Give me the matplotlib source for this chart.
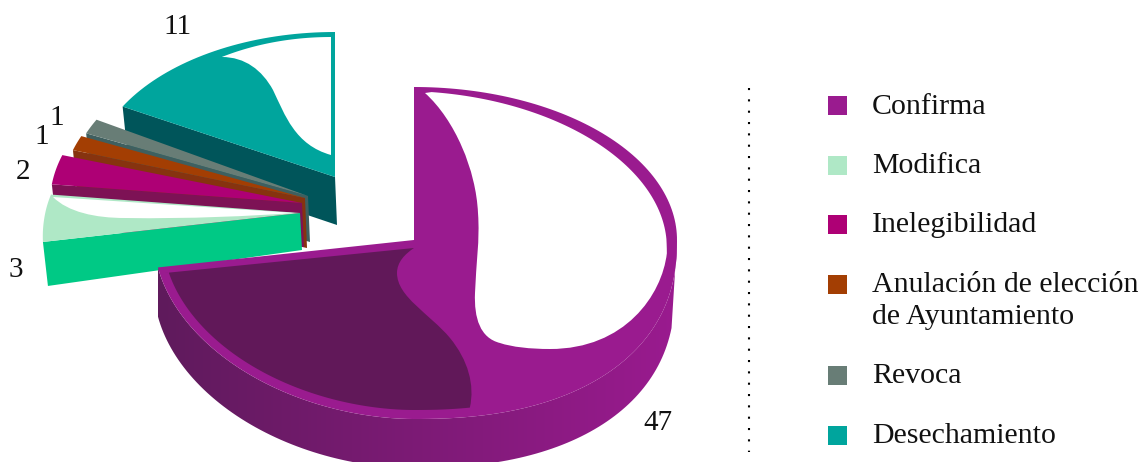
import numpy as np
import matplotlib
matplotlib.use('Agg')
import matplotlib.pyplot as plt
from matplotlib.path import Path
from matplotlib.patches import PathPatch, Polygon, Rectangle
from matplotlib.colors import LinearSegmentedColormap

# datos
categorias = ['Confirma', 'Modifica', 'Inelegibilidad',
              'Anulación de elección\nde Ayuntamiento', 'Revoca', 'Desechamiento']
valores = [47, 3, 2, 1, 1, 11]
colores = ['#9a1b8f', '#afe8c6', '#ae0075', '#a33e03', '#687d76', '#00a59d']
paredes = ['#9a1b8f', '#00c985', '#7d1255', '#86330f', '#3f5f5f', '#00555a']

plt.rcParams['font.family'] = ['Liberation Serif', 'DejaVu Serif']

fig = plt.figure(figsize=(11.43, 4.62), dpi=100)
ax = fig.add_axes([0, 0, 1, 1])
ax.set_xlim(0, 1143)
ax.set_ylim(462, 0)
ax.axis('off')

# angulos de cada rebanada (horario desde arriba)
cortes = np.concatenate([[0], np.cumsum(valores)]) / sum(valores) * 360


def borde(t, x0, y0, rx, ry, ry_abajo=None):
    t = np.radians(t)
    c = np.cos(t)
    r = np.where(c > 0, ry, ry if ry_abajo is None else ry_abajo)
    return np.column_stack([x0 + rx * np.sin(t), y0 - r * c])


def borde_main(t, d=0.0):
    # la rebanada grande tiene perspectiva: cada cuadrante es distinto
    t = np.radians(t)
    s, c = np.sin(t), np.cos(t)
    rx = np.where(s > 0, 263 - 1.5 * d, 260 - d)
    ry = np.where(c > 0, 153 - 0.6 * d, 179 - d)
    n = np.where((s > 0) & (c < 0), 2.3, np.where((s < 0) & (c < 0), 1.9, 2.0))
    x = 414 + rx * np.sign(s) * np.abs(s) ** (2 / n)
    y = 240 - ry * np.sign(c) * np.abs(c) ** (2 / n)
    return np.column_stack([x, y])


# rebanadas separadas: vertice, rx, ry, ry abajo, alto de la pared (derecha, izquierda)
vertices = {1: (300, 213), 2: (302, 203), 3: (305, 198), 4: (308, 196), 5: (335, 177)}
radios = {1: (261, 153, 172), 2: (252, 155, 155), 3: (244, 155, 155), 4: (242, 157, 157), 5: (243, 145, 145)}
altos = {1: (37, 44), 2: (44, 44), 3: (50, 50), 4: (46, 46), 5: (48, 48)}

for i in [5, 4, 3, 2, 1]:
    x0, y0 = vertices[i]
    rx, ry, ryb = radios[i]
    ts = np.linspace(cortes[i], cortes[i + 1], 40)
    arco = borde(ts, x0, y0, rx, ry, ryb)
    if i == 1:
        # el arco de Modifica va inclinado
        arco[:, 0] -= (arco[:, 1] - y0 - 30) * 10 / 48
    izq = arco[0]
    h1, h2 = altos[i]
    ax.add_patch(Polygon([izq, (x0, y0), (x0 + 2, y0 + h1), (izq[0] + 5, izq[1] + h2)],
                         closed=True, fc=paredes[i], ec='none', zorder=(6 - i) * 2))
    ax.add_patch(Polygon(np.vstack([[(x0, y0)], arco]), closed=True, fc=colores[i],
                         ec='none', zorder=(6 - i) * 2 + 1))

# brillo blanco de Desechamiento
ts = np.linspace(360, 329, 30)
anillo = borde(ts, 331, 177, 212, 140)
pts = [(331, 155), (331, 37)] + [tuple(p) for p in anillo[1:]]
codes = [Path.MOVETO, Path.LINETO] + [Path.LINETO] * (len(anillo) - 1)
pts += [(245, 57), (262, 70), (273, 90), (285, 115), (295, 145), (331, 155)]
codes += [Path.CURVE4] * 6
ax.add_patch(PathPatch(Path(pts, codes), fc='white', ec='none', zorder=4))

# brillo blanco de Modifica
pts = [(53, 197), (68, 212), (95, 218), (125, 218), (190, 219), (250, 216), (295, 213), (53, 197)]
codes = [Path.MOVETO] + [Path.CURVE4] * 6 + [Path.LINETO]
ax.add_patch(PathPatch(Path(pts, codes), fc='white', ec='none', zorder=11))

# rebanada grande: pared con degradado
cmap = LinearSegmentedColormap.from_list('pared', ['#5f1a5c', '#9a1b8f'])
ts = np.linspace(90, cortes[1], 120)
arriba = borde_main(ts)
ts2 = np.linspace(cortes[1], 100, 120)
abajo = borde_main(ts2) + [0, 49]
abajo[:, 0] += np.linspace(0, -2, 120)
pared = Polygon(np.vstack([arriba, abajo]), closed=True, fc='none', ec='none')
ax.add_patch(pared)
grad = np.linspace(0, 1, 256).reshape(1, -1)
im = ax.imshow(grad, extent=[158, 677, 480, 240], cmap=cmap, aspect='auto', zorder=14)
im.set_clip_path(pared)
ax.set_xlim(0, 1143)
ax.set_ylim(462, 0)

# cara superior
ts = np.linspace(0, cortes[1], 200)
arco = borde_main(ts)
ax.add_patch(Polygon(np.vstack([[(414, 240)], arco]), closed=True, fc=colores[0], ec='none', zorder=15))

# zona oscura de la cara superior
ts = np.linspace(258, 169.7, 80)
interior = borde_main(ts, 9)
pts = [(414, 248), (165, 273)] + [tuple(p) for p in interior]
codes = [Path.MOVETO, Path.LINETO] + [Path.LINETO] * len(interior)
pts += [(475, 385), (468, 360), (450, 338), (430, 314), (397, 297), (397, 273),
        (397, 262), (405, 254), (414, 248)]
codes += [Path.CURVE4] * 9
ax.add_patch(PathPatch(Path(pts, codes), fc='#611859', ec='none', zorder=16))

# brillo blanco de la cara superior
ts = np.linspace(4, 93, 80)
interior = borde_main(ts, 7)
factor = 1 - 0.025 * np.sin(np.radians(2 * ts))
interior = np.array([414, 240]) + (interior - [414, 240]) * factor[:, None]
pts = [(425, 93)] + [tuple(p) for p in interior]
codes = [Path.MOVETO] + [Path.LINETO] * len(interior)
pts += [(662, 295), (625, 349), (550, 349), (530, 349), (512, 347), (500, 343),
        (480, 338), (474, 318), (475, 293), (476, 265), (480, 240), (478, 213),
        (476, 170), (455, 120), (425, 93)]
codes += [Path.CURVE4] * 15
ax.add_patch(PathPatch(Path(pts, codes), fc='white', ec='none', zorder=17))

# etiquetas de valores
etq_pos = [(658, 423), (16, 270), (23, 172), (42, 137), (57, 118), (177, 27)]
for v, (x, y) in zip(valores, etq_pos):
    ax.text(x, y, str(v), fontsize=21, ha='center', va='center', color='#111111', zorder=20)

# separador punteado
ax.plot([749, 749], [88, 452], color='black', lw=1.5, linestyle=(0, (1, 4.44)), zorder=20)

# leyenda
ley_y = [105.5, 165, 224, 284, 375, 435]
for nombre, color, y in zip(categorias, colores, ley_y):
    ax.add_patch(Rectangle((828, y - 9.5), 19, 19, fc=color, ec='none', zorder=20))
    if '\n' in nombre:
        a, b = nombre.split('\n')
        ax.text(872, y + 1, a, fontsize=21.5, va='center', color='#111111', zorder=20)
        ax.text(872, y + 33, b, fontsize=21.5, va='center', color='#111111', zorder=20)
    else:
        ax.text(872, y + 1, nombre, fontsize=21.5, va='center', color='#111111', zorder=20)

fig.savefig('out.png', dpi=100)
